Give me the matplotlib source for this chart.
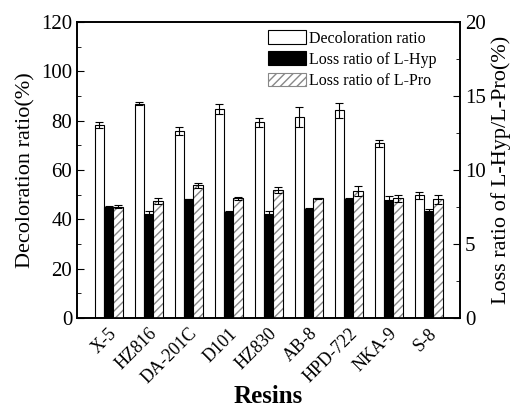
import matplotlib
matplotlib.use("Agg")
import matplotlib.pyplot as plt
import numpy as np
from matplotlib.patches import Patch
from matplotlib.ticker import MultipleLocator

resins = ["X-5", "HZ816", "DA-201C", "D101", "HZ830", "AB-8", "HPD-722", "NKA-9", "S-8"]
decoloration = [78.2, 86.9, 75.8, 84.9, 79.3, 81.6, 84.3, 70.8, 49.7]
decoloration_err = [1.2, 0.7, 1.5, 2.0, 1.8, 4.0, 3.0, 1.5, 1.5]
loss_hyp = [7.52, 7.0, 8.02, 7.16, 7.05, 7.34, 8.02, 7.97, 7.25]
loss_hyp_err = [0.05, 0.25, 0.05, 0.05, 0.15, 0.1, 0.1, 0.3, 0.1]
loss_pro = [7.52, 7.93, 8.97, 8.09, 8.63, 8.09, 8.58, 8.09, 8.02]
loss_pro_err = [0.1, 0.2, 0.15, 0.1, 0.2, 0.05, 0.35, 0.25, 0.3]

plt.rcParams['font.family'] = ['Liberation Serif', 'DejaVu Serif']

fig = plt.figure(figsize=(5.17, 4.09), dpi=100)
ax = fig.add_axes([0.149, 0.2225, 0.741, 0.7235])
ax2 = ax.twinx()

x = np.arange(len(resins))
w = 0.233
ekw = dict(elinewidth=0.8, capthick=0.8, ecolor='black')

ax.bar(x - w, decoloration, w, color='white', edgecolor='black', linewidth=0.8,
       yerr=decoloration_err, capsize=3, error_kw=ekw, zorder=2)
ax2.bar(x, loss_hyp, w, color='black', edgecolor='black', linewidth=0.8,
        yerr=loss_hyp_err, capsize=3, error_kw=ekw, zorder=2)
ax2.bar(x + w, loss_pro, w, color='white', edgecolor='#888888', hatch='////',
        linewidth=0, zorder=2)
ax2.bar(x + w, loss_pro, w, color='none', edgecolor='black', linewidth=0.8,
        yerr=loss_pro_err, capsize=3, error_kw=ekw, zorder=3)

ax.set_xlim(-0.79, 8.79)
ax.set_ylim(0, 120)
ax2.set_ylim(0, 20)
ax.yaxis.set_major_locator(MultipleLocator(20))
ax.yaxis.set_minor_locator(MultipleLocator(10))
ax2.yaxis.set_major_locator(MultipleLocator(5))
ax2.yaxis.set_minor_locator(MultipleLocator(2.5))

ax.set_xticks(x)
ax.set_xticklabels(resins, rotation=45, ha='right', rotation_mode='anchor', fontsize=13)
ax.tick_params(axis='x', length=0, pad=5)
ax.tick_params(axis='y', which='both', direction='in', labelsize=15)
ax.tick_params(axis='y', which='major', length=5)
ax.tick_params(axis='y', which='minor', length=3)
ax2.tick_params(axis='y', which='both', direction='in', labelsize=15)
ax2.tick_params(axis='y', which='major', length=5)
ax2.tick_params(axis='y', which='minor', length=3)

for a in (ax, ax2):
    for s in a.spines.values():
        s.set_linewidth(1.2)

ax.set_ylabel("Decoloration ratio(%)", fontsize=16)
ax2.set_ylabel("Loss ratio of L-Hyp/L-Pro(%)", fontsize=16)
ax.set_xlabel("Resins", fontsize=18, fontweight='bold')
ax.xaxis.set_label_coords(0.5, -0.225)

h1 = Patch(facecolor='white', edgecolor='black', linewidth=0.8)
h2 = Patch(facecolor='black', edgecolor='black', linewidth=0.8)
h3 = Patch(facecolor='white', edgecolor='#888888', hatch='////', linewidth=0.8)
ax2.legend([h1, h2, h3], ["Decoloration ratio", "Loss ratio of L-Hyp", "Loss ratio of L-Pro"],
           loc='upper right', bbox_to_anchor=(0.968, 1.01), frameon=False, fontsize=11.5,
           handlelength=2.4, handleheight=0.95,
           borderaxespad=0.3, labelspacing=0.3, handletextpad=0.2)

fig.savefig("out.png", dpi=100)
